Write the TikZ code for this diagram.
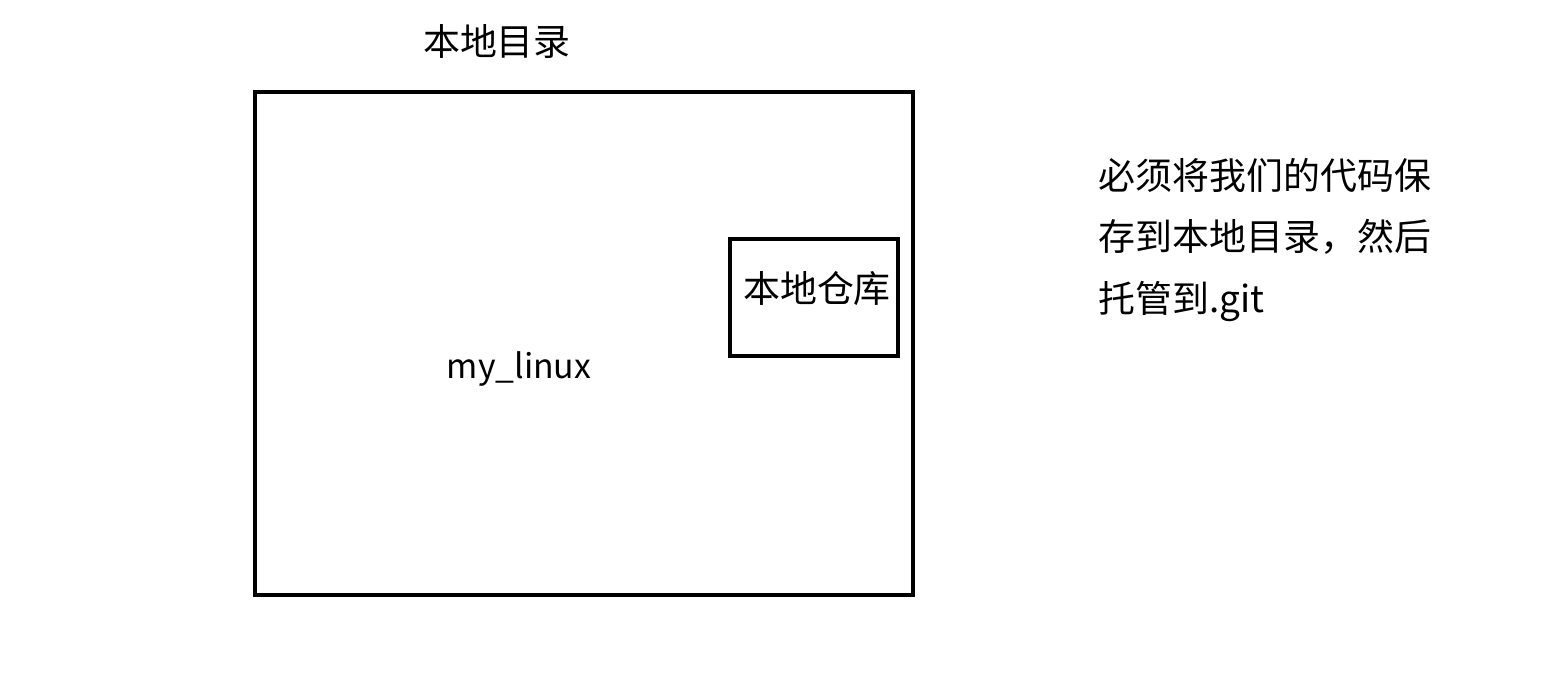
\documentclass[tikz,border=0pt]{standalone}
\usepackage{fontspec}
\setmainfont{Noto Sans CJK SC}
\usetikzlibrary{positioning}
\tikzstyle{folder} = [rectangle, draw=black, line width=1.25pt, minimum width=6.58cm, minimum height=5.03cm, inner sep=0pt]
\tikzstyle{repo} = [rectangle, draw=black, line width=1.25pt, minimum width=1.68cm, minimum height=1.17cm, inner sep=0pt]
\tikzstyle{label} = [font=\fontsize{10.5}{17.6}\selectfont, inner sep=0pt]

\begin{document}
\begin{tikzpicture}[x=0.01cm, y=-0.01cm]
        \useasboundingbox (0,0) rectangle (1559,689);
        \node[folder] (dir) at (584, 343.5) {};
        \node[label] (dirtitle) at (497, 42) {本地目录};
        \node[label, font=\fontsize{9.6}{12}\selectfont] (dirname) at (519, 369) {my\_linux};
        
        \node[repo] (repobox) at (814, 297.5) {};
        \node[label] (reponame) at (817, 289) {本地仓库};
        
        \node[label, anchor=west, align=left] (note) at (1098, 240) {必须将我们的代码保\\存到本地目录，然后\\托管到.git};
    \end{tikzpicture}
\end{document}
